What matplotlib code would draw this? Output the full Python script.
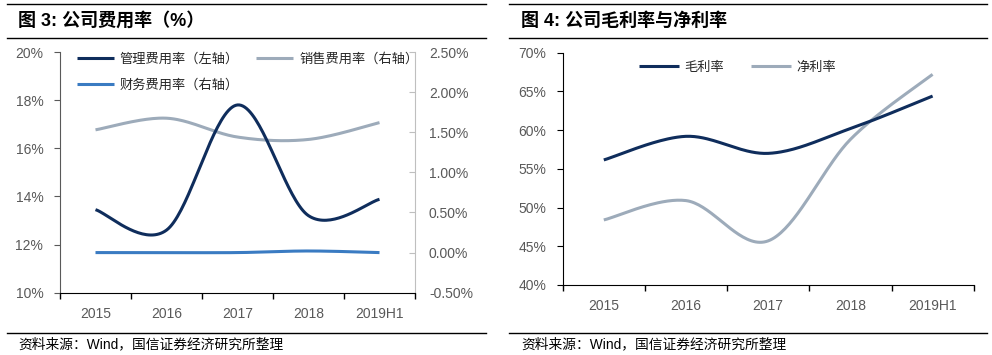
import numpy as np
import matplotlib
matplotlib.use("Agg")
import matplotlib.pyplot as plt
from matplotlib.lines import Line2D
from matplotlib.ticker import FuncFormatter

# ---------------- data ----------------
categories = ["2015", "2016", "2017", "2018", "2019H1"]
admin_rate = [13.45, 12.6, 17.8, 13.2, 13.88]      # 管理费用率 (left axis, %)
sales_rate = [1.53, 1.675, 1.44, 1.41, 1.62]       # 销售费用率 (right axis, %)
fin_rate = [0.0, 0.0, 0.0, 0.02, 0.0]              # 财务费用率 (right axis, %)
gross_margin = [56.15, 59.2, 57.0, 60.2, 64.4]     # 毛利率 (%)
net_margin = [48.4, 50.9, 45.7, 58.8, 67.2]        # 净利率 (%)

title_left = "图 3: 公司费用率（%）"
title_right = "图 4: 公司毛利率与净利率"
source_text = "资料来源：Wind，国信证券经济研究所整理"

NAVY = "#0F2D5C"
GRAY = "#9DABBA"
BLUE = "#3A7BC2"
TXT = "#595959"

plt.rcParams["font.family"] = ["Liberation Sans", "Noto Sans CJK SC", "DejaVu Sans"]
CJK = ["Noto Sans CJK SC", "DejaVu Sans"]


def smooth(y, n=40):
    """Excel-like smoothed line (Catmull-Rom Bezier)."""
    x = np.arange(len(y), dtype=float)
    y = np.asarray(y, dtype=float)
    pts = np.column_stack([x, y])
    out = []
    for i in range(len(pts) - 1):
        p0 = pts[i - 1] if i > 0 else pts[i]
        p1 = pts[i]
        p2 = pts[i + 1]
        p3 = pts[i + 2] if i + 2 < len(pts) else pts[i + 1]
        c1 = p1 + (p2 - p0) / 6.0
        c2 = p2 - (p3 - p1) / 6.0
        t = np.linspace(0, 1, n)[:, None]
        seg = ((1 - t) ** 3) * p1 + 3 * ((1 - t) ** 2) * t * c1 + 3 * (1 - t) * t ** 2 * c2 + t ** 3 * p2
        out.append(seg if i == 0 else seg[1:])
    seg = np.vstack(out)
    return seg[:, 0], seg[:, 1]


W, H = 992, 355
fig = plt.figure(figsize=(W / 100, H / 100), dpi=100)


def fx(px):
    return px / W


def fy(py):
    return 1 - py / H


def hline(x0, x1, y):
    fig.add_artist(Line2D([fx(x0), fx(x1)], [fy(y), fy(y)], color="black", lw=1.0))


# header / footer decorations
for (x0, x1, tx, title) in [(7, 486, 18, title_left), (509, 987, 521, title_right)]:
    hline(x0, x1, 3.5)
    hline(x0, x1, 37.5)
    hline(x0, x1, 332.5)
    fig.text(fx(tx), fy(21), title, fontsize=13, fontweight="bold",
             ha="left", va="center", color="black")
    fig.text(fx(tx), fy(344), source_text, fontsize=9.9,
             family=["Liberation Sans", "Noto Sans CJK SC"],
             ha="left", va="center", color="black")


def style_x(ax):
    ax.set_xlim(-0.5, 4.5)
    ax.set_xticks(range(len(categories)))
    ax.set_xticklabels(categories)
    ax.set_xticks(np.arange(-0.5, 4.6, 1.0), minor=True)
    ax.tick_params(axis="x", which="major", length=0, pad=10, labelsize=10, labelcolor=TXT)
    ax.tick_params(axis="x", which="minor", length=4, direction="out", color="black", width=1)
    ax.spines["bottom"].set_color("black")
    ax.spines["top"].set_visible(False)


# ---------------- left chart ----------------
axL = fig.add_axes([fx(60), fy(292.7), fx(415 - 60), (292.7 - 52) / H])
style_x(axL)
axL.set_ylim(10, 20)
axL.set_yticks(np.arange(10, 20.1, 2))
axL.yaxis.set_major_formatter(FuncFormatter(lambda v, p: f"{v:.0f}%"))
axL.tick_params(axis="y", length=4, direction="out", color="#595959", labelsize=10,
                labelcolor=TXT, pad=8)
axL.spines["left"].set_color("#595959")
axL.spines["right"].set_visible(False)

axR = axL.twinx()
axR.set_ylim(-0.5, 2.5)
axR.set_yticks(np.arange(-0.5, 2.51, 0.5))
axR.yaxis.set_major_formatter(FuncFormatter(lambda v, p: f"{v:.2f}%"))
axR.tick_params(axis="y", length=4, direction="in", color="#BFBFBF", labelsize=10,
                labelcolor=TXT, pad=10)
axR.spines["right"].set_color("#BFBFBF")
for s in ["left", "top", "bottom"]:
    axR.spines[s].set_visible(False)

xs, ys = smooth(sales_rate)
l2, = axR.plot(xs, ys, color=GRAY, lw=2.2, solid_capstyle="butt")
xs, ys = smooth(fin_rate)
l3, = axR.plot(xs, ys, color=BLUE, lw=2.2, solid_capstyle="butt")
xs, ys = smooth(admin_rate)
l1, = axL.plot(xs, ys, color=NAVY, lw=2.2, solid_capstyle="butt")
axL.set_zorder(axR.get_zorder() + 1)
axL.patch.set_visible(False)

# ncol=2 fills column-wise: order so row 1 = 管理, 销售 ; row 2 = 财务
leg = fig.legend([l1, l3, l2], ["管理费用率（左轴）", "财务费用率（右轴）", "销售费用率（右轴）"],
                 loc="upper left", bbox_to_anchor=(fx(77), fy(53)), ncol=2,
                 frameon=False, borderpad=0, borderaxespad=0, handlelength=2.8,
                 handletextpad=0.45, columnspacing=1.3, labelspacing=0.95,
                 prop={"family": CJK, "size": 9.5})
for t in leg.get_texts():
    t.set_color("#262626")

# ---------------- right chart ----------------
ax2 = fig.add_axes([fx(562.7), fy(285), fx(973.7 - 562.7), (285 - 52.7) / H])
style_x(ax2)
ax2.set_ylim(40, 70)
ax2.set_yticks(np.arange(40, 70.1, 5))
ax2.yaxis.set_major_formatter(FuncFormatter(lambda v, p: f"{v:.0f}%"))
ax2.tick_params(axis="y", length=4, direction="out", color="black", labelsize=10,
                labelcolor=TXT, pad=8)
ax2.spines["left"].set_color("black")
ax2.spines["right"].set_visible(False)

xs, ys = smooth(net_margin)
m2, = ax2.plot(xs, ys, color=GRAY, lw=2.2, solid_capstyle="butt")
xs, ys = smooth(gross_margin)
m1, = ax2.plot(xs, ys, color=NAVY, lw=2.2, solid_capstyle="butt")

leg2 = fig.legend([m1, m2], ["毛利率", "净利率"], loc="upper left",
                  bbox_to_anchor=(fx(639), fy(61)), ncol=2, frameon=False,
                  borderpad=0, borderaxespad=0, handlelength=3.0,
                  handletextpad=0.4, columnspacing=2.1,
                  prop={"family": CJK, "size": 9.5})
for t in leg2.get_texts():
    t.set_color("#262626")

fig.savefig("out.png", dpi=100)
